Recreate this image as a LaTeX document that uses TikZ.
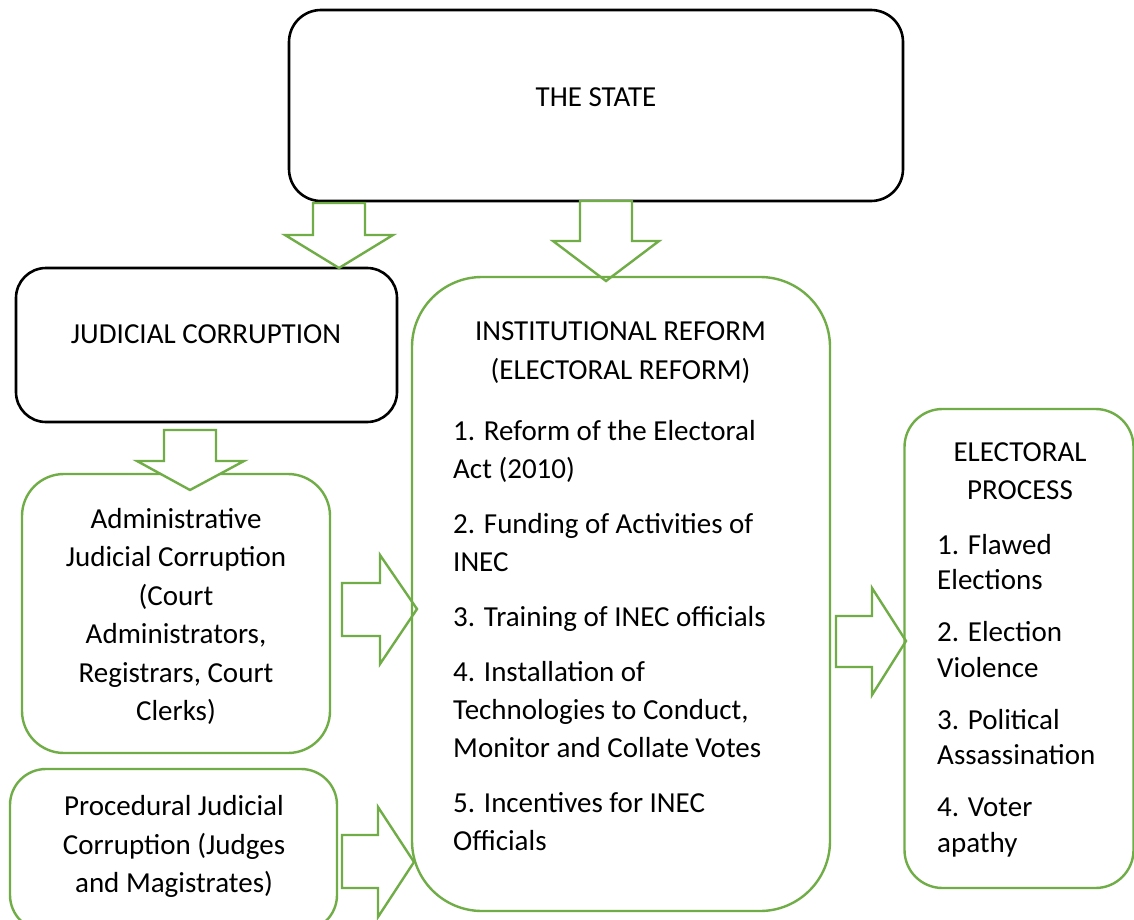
\documentclass[tikz,border=0pt]{standalone}
\usepackage{fontspec}
\setmainfont{Carlito}
\definecolor{ogreen}{RGB}{112,173,71}
\begin{document}
\begin{tikzpicture}[x=1pt,y=-1pt,
  blackbox/.style={draw=black,line width=2.6pt,rectangle,inner sep=0pt},
  greenbox/.style={draw=ogreen,line width=2.4pt,rectangle,inner sep=0pt},
  blockarrow/.style={draw=ogreen,line width=2.4pt,fill=white,line join=miter},
  lbl/.style={inner sep=0pt,font=\fontsize{29}{38.5}\selectfont},
  lblin/.style={inner sep=0pt,font=\fontsize{29}{38}\selectfont},
  lblep/.style={inner sep=0pt,font=\fontsize{29}{35.5}\selectfont}]
\useasboundingbox (0,0) rectangle (1134,920);
\fill[white] (0,0) rectangle (1134,920);
% boxes
\node[blackbox,rounded corners=32pt,minimum width=614pt,minimum height=191pt] (state) at (596,105.5) {};
\node[blackbox,rounded corners=30pt,minimum width=381pt,minimum height=154pt] (jud) at (206.5,345) {};
\node[greenbox,rounded corners=42pt,minimum width=308pt,minimum height=279pt] (adm) at (176,613.5) {};
% arrow judicial -> administrative
\path[blockarrow] (164,430) -- (216,430) -- (216,461) -- (244,461) -- (190,490) -- (137,461) -- (164,461) -- cycle;
\node[greenbox,rounded corners=36pt,minimum width=327pt,minimum height=162pt] (proc) at (173.5,850) {};
% arrows
\path[blockarrow] (313,203) -- (365,203) -- (365,235) -- (393,235) -- (339,268) -- (285,235) -- (313,235) -- cycle;
\path[blockarrow] (580,201) -- (632,201) -- (632,241) -- (659,241) -- (606,281) -- (553,241) -- (580,241) -- cycle;
\path[blockarrow] (342,583) -- (380,583) -- (380,555) -- (417,609) -- (380,664) -- (380,636) -- (342,636) -- cycle;
\path[blockarrow] (342,835) -- (378,835) -- (378,807) -- (414,862) -- (378,917) -- (378,888) -- (342,888) -- cycle;
\path[blockarrow] (836,616) -- (872,616) -- (872,588) -- (906,641) -- (872,695) -- (872,667) -- (836,667) -- cycle;
\node[greenbox,rounded corners=70pt,minimum width=418pt,minimum height=634pt] (inst) at (621,594) {};
\node[greenbox,rounded corners=38pt,minimum width=229pt,minimum height=479pt] (elec) at (1019,648.5) {};
% texts (base anchor = baseline of the last line)
\node[lbl,anchor=base] (stateT) at (596,106.5) {THE STATE};
\node[lbl,anchor=base] (judT) at (206,343.5) {JUDICIAL CORRUPTION};
\node[lbl,anchor=base,align=center] (admT) at (176,720.5) {Administrative\\Judicial Corruption\\(Court\\Administrators,\\Registrars, Court\\Clerks)};
\node[lbl,anchor=base,align=center] (procT) at (174,892.5) {Procedural Judicial\\Corruption (Judges\\and Magistrates)};
\node[lbl,anchor=base,align=center] (instT) at (620.5,379) {INSTITUTIONAL REFORM\\(ELECTORAL REFORM)};
\node[lblin,anchor=base west,align=left] (instI) at (453,850) {1. Reform of the Electoral\\Act (2010)\\[17pt]2. Funding of Activities of\\INEC\\[17pt]3. Training of INEC officials\\[17pt]4. Installation of\\Technologies to Conduct,\\Monitor and Collate Votes\\[17pt]5. Incentives for INEC\\Officials};
\node[lbl,anchor=base,align=center] (elecT) at (1020,499.5) {ELECTORAL\\PROCESS};
\node[lblep,anchor=base west,align=left] (elecI) at (937,852) {1. Flawed\\Elections\\[16.5pt]2. Election\\Violence\\[16.5pt]3. Political\\Assassination\\[16.5pt]4. Voter\\apathy};
\end{tikzpicture}
\end{document}
